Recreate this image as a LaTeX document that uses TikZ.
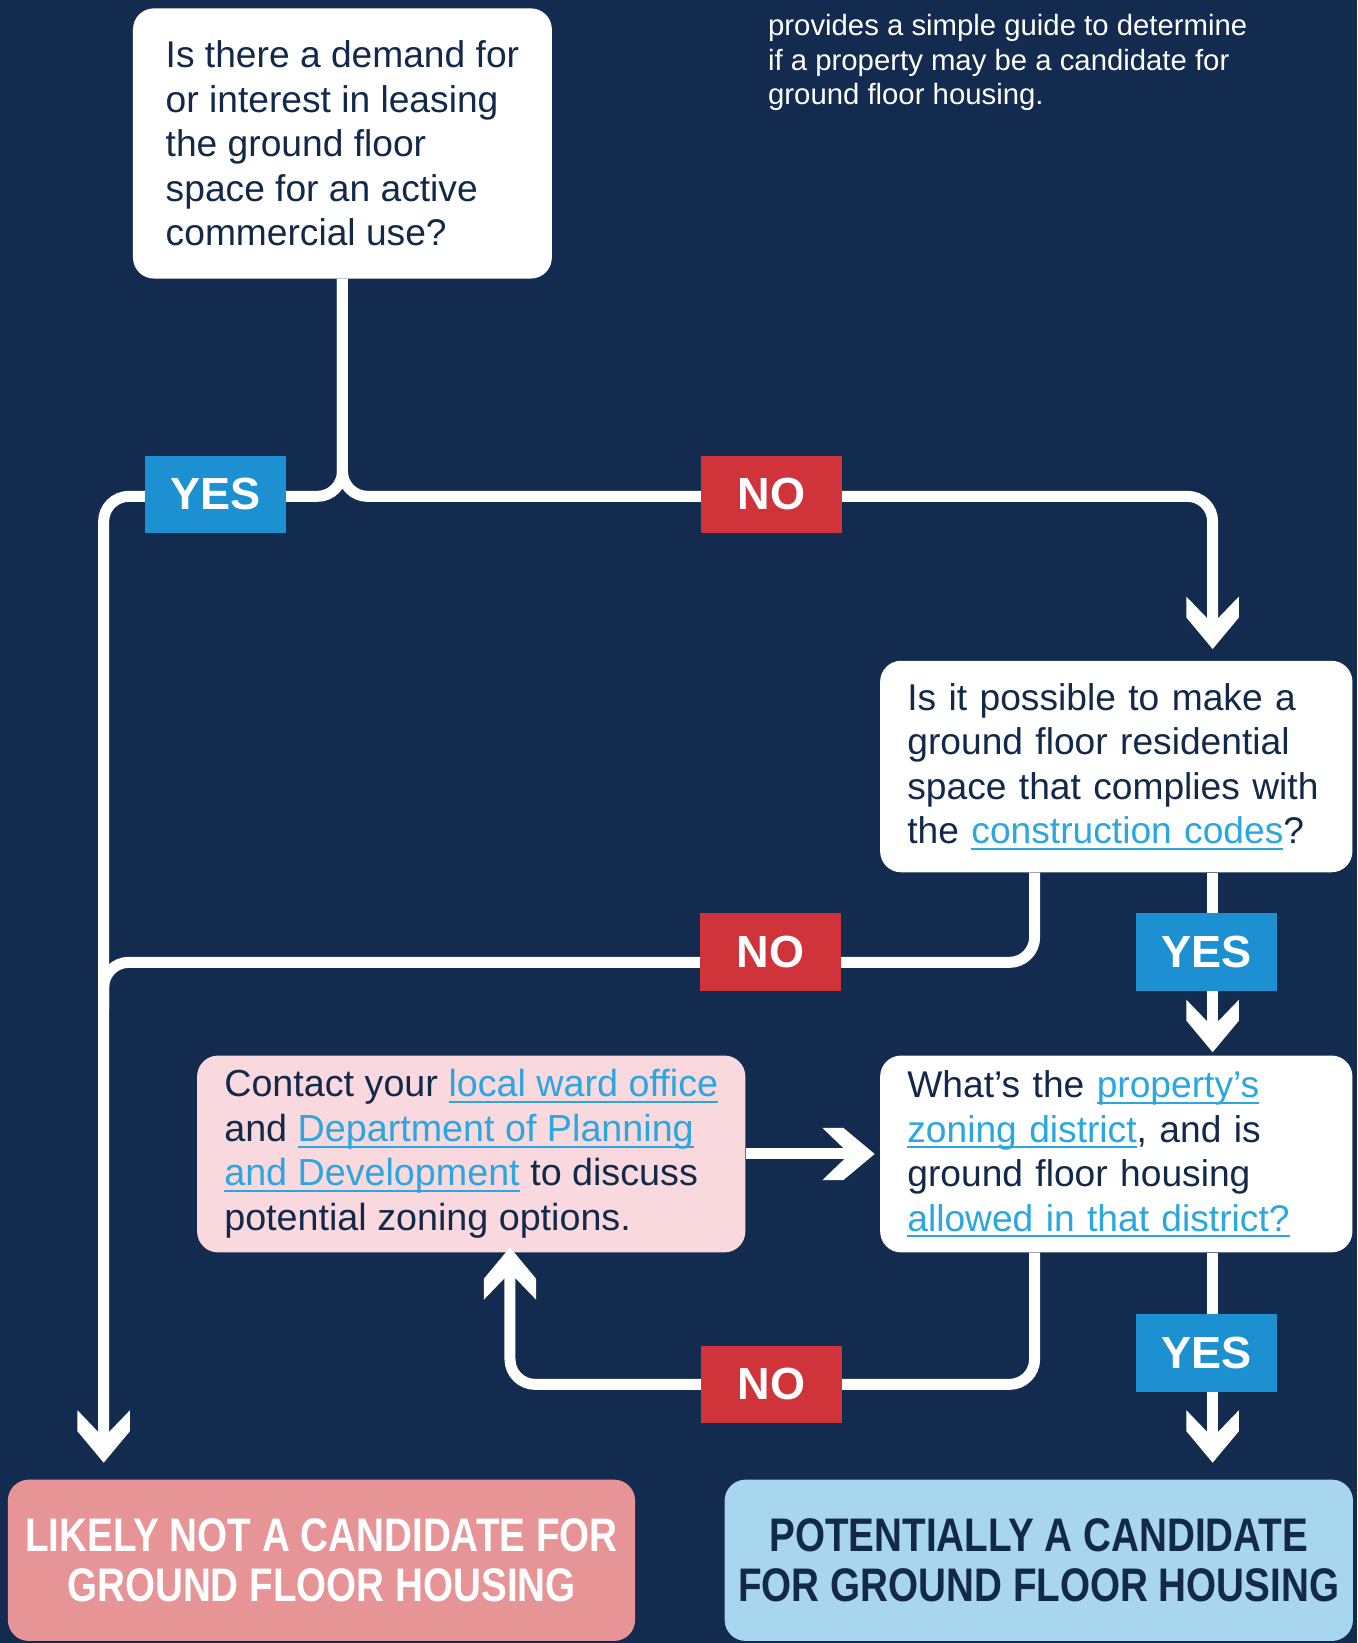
\documentclass[tikz,border=0pt]{standalone}
\usepackage{fontspec}
\setmainfont{Liberation Sans}
\newfontfamily\condfont[FakeStretch=0.82]{Liberation Sans}
\definecolor{navy}{HTML}{132B4F}
\definecolor{inknavy}{HTML}{12294A}
\definecolor{linkblue}{HTML}{2AA7E0}
\definecolor{yesblue}{HTML}{1C90D1}
\definecolor{nored}{HTML}{D0343A}
\definecolor{pinkbox}{HTML}{F9D8DE}
\definecolor{salmon}{HTML}{E69496}
\definecolor{skyblue}{HTML}{A8D6EF}
% underlined link text
\newcommand{\lnk}[1]{\leavevmode{\color{linkblue}\setbox0\hbox{#1}\rlap{\vrule height -4pt depth 6pt width \wd0}\box0}}
% thick chevron head for the flow lines
\pgfdeclarearrow{
  name = Chev,
  setup code = {
    \pgfarrowssettipend{0pt}
    \pgfarrowssetlineend{-20pt}
    \pgfarrowssetbackend{-50pt}
    \pgfarrowshullpoint{0pt}{0pt}
    \pgfarrowsupperhullpoint{-50pt}{25pt}
  },
  drawing code = {
    \pgfpathmoveto{\pgfpointorigin}
    \pgfpathlineto{\pgfpoint{-30pt}{25pt}}
    \pgfpathlineto{\pgfpoint{-50pt}{25pt}}
    \pgfpathlineto{\pgfpoint{-24pt}{0pt}}
    \pgfpathlineto{\pgfpoint{-50pt}{-25pt}}
    \pgfpathlineto{\pgfpoint{-30pt}{-25pt}}
    \pgfpathclose
    \pgfusepathqfill
  }
}
\begin{document}
\begin{tikzpicture}[x=1pt, y=-1pt,
    qbox/.style={rectangle, rounded corners=20, fill=white, text=inknavy, align=left, inner xsep=26, inner ysep=0, font=\fontsize{35.5}{42.5}\selectfont},
    contactbox/.style={qbox, fill=pinkbox, font=\fontsize{36}{42.5}\selectfont},
    endbox/.style={rectangle, rounded corners=20, align=center, minimum width=600, minimum height=154, font=\condfont\bfseries\fontsize{45}{48}\selectfont},
    yesbox/.style={rectangle, fill=yesblue, text=white, minimum width=135, minimum height=74, font=\bfseries\fontsize{43}{43}\selectfont},
    nobox/.style={yesbox, fill=nored},
    flow/.style={color=white, line width=10.5, rounded corners=24, -Chev}]
  \useasboundingbox (0,0) rectangle (1296,1569);
  \fill[navy] (0,0) rectangle (1296,1569);

  \node (intro) at (730,60) [anchor=west, align=left, text=white, font=\fontsize{28}{33}\selectfont] {provides a simple guide to determine\\if a property may be a candidate for\\ground floor housing.};

  \node (q1) at (327,137) [qbox, minimum width=400, minimum height=258] {Is there a demand for\\or interest in leasing\\the ground floor\\space for an active\\commercial use?};
  \node (q2) at (1066,732) [qbox, minimum width=451, minimum height=202, text width=399] {Is it possible to make a\\ground floor residential\\space that complies with\\the \lnk{construction codes}?};
  \node (q3) at (1066,1102) [qbox, minimum width=451, minimum height=188, text width=399] {What’s the \lnk{property’s}\\\lnk{zoning district}, and is\\ground floor housing\\\lnk{allowed in that district?}};
  \node (contact) at (450,1102) [contactbox, minimum width=521, minimum height=188] {Contact your \lnk{local ward office}\\and \lnk{Department of Planning}\\\lnk{and Development} to discuss\\potential zoning options.};
  \node (lnot) at (307,1490) [endbox, fill=salmon, text=white, minimum width=599] {LIKELY NOT A CANDIDATE FOR\\GROUND FLOOR HOUSING};
  \node (lyes) at (992,1490) [endbox, fill=skyblue, text=inknavy] {POTENTIALLY A CANDIDATE\\FOR GROUND FLOOR HOUSING};

  \coordinate (jl) at (99,474);
  \coordinate (jr) at (1158,474);
  \coordinate (nobend) at (988,919);
  \coordinate (nojoin) at (99,919);
  \coordinate (backbend) at (988,1322);
  \coordinate (backup) at (487,1322);

  \draw[flow, shorten >=16] (q1.south) |- (jl) -- (lnot.north -| jl);
  \draw[flow, shorten >=11] (q1.south) |- (jr) -- (q2.north -| jr);
  \draw[flow, -] (q2.south -| nobend) -- (nobend) -- (nojoin) -- ++(0,45);
  \draw[flow, shorten >=3] (q2.south -| jr) -- (q3.north -| jr);
  \draw[flow, shorten >=5] (contact.east) -- (q3.west);
  \draw[flow, shorten >=-5] (q3.south -| backbend) -- (backbend) -- (backup) -- (contact.south -| backup);
  \draw[flow, shorten >=16] (q3.south -| jr) -- (lyes.north -| jr);

  \foreach \name/\px/\py in {yes1/206/472, yes2/1152/909, yes3/1152/1292}
    \node (\name) at (\px,\py) [yesbox] {YES};
  \foreach \name/\px/\py in {no1/737/472, no2/736/909, no3/737/1322}
    \node (\name) at (\px,\py) [nobox] {NO};
\end{tikzpicture}
\end{document}
